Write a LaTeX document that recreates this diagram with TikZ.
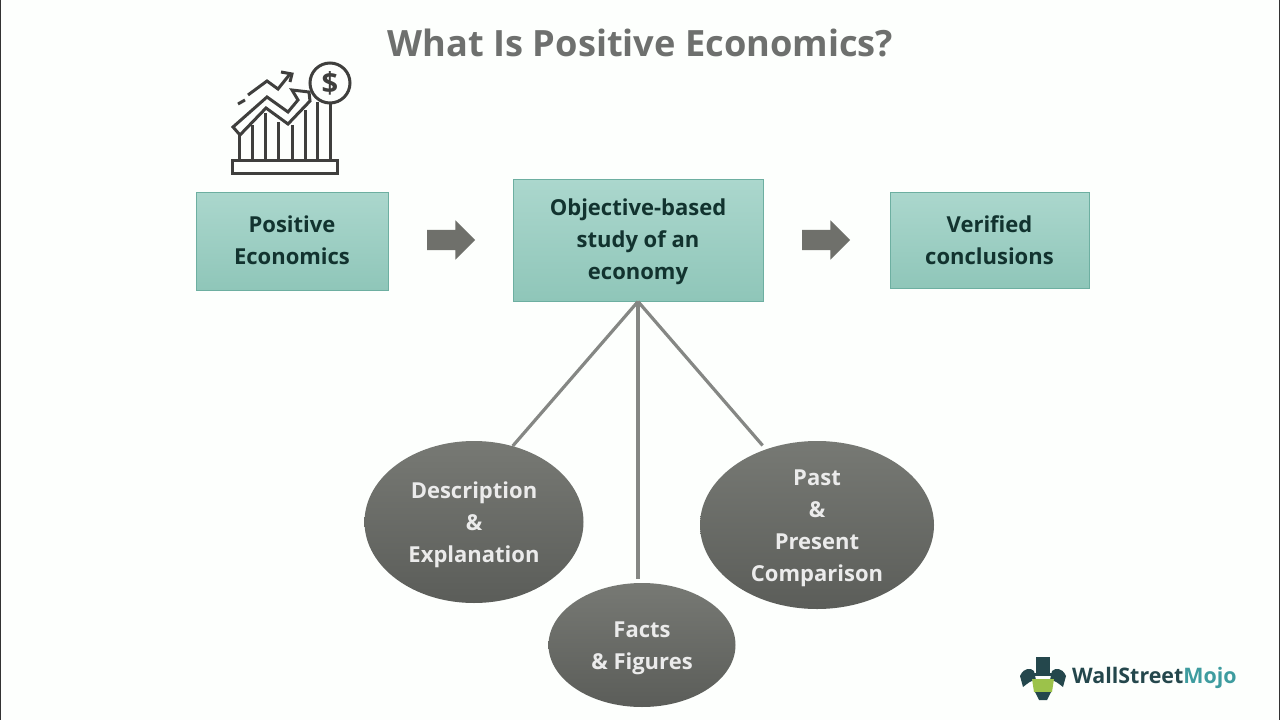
\documentclass[tikz,border=0pt]{standalone}
\usepackage{fontspec}
\setmainfont{Open Sans}
\usetikzlibrary{shapes.geometric,shapes.arrows}
\definecolor{pagebg}{HTML}{FDFFFD}
\definecolor{boxtop}{HTML}{ABD7CD}
\definecolor{boxbot}{HTML}{8FC6B9}
\definecolor{boxline}{HTML}{6DAFA1}
\definecolor{boxtext}{HTML}{12332F}
\definecolor{elltop}{HTML}{777974}
\definecolor{ellbot}{HTML}{5B5D59}
\definecolor{arrowgrey}{HTML}{6F706B}
\definecolor{linegrey}{HTML}{858784}
\definecolor{titlegrey}{HTML}{6E706E}
\definecolor{icondark}{HTML}{3F3F3D}
\definecolor{logodark}{HTML}{24474C}
\definecolor{logoteal}{HTML}{3E9C9F}
\definecolor{logogreen}{HTML}{9CC24A}
\newcommand\shifted[2]{\raisebox{#1}[\height][\depth]{\begin{tabular}{@{}c@{}}#2\end{tabular}}}
\tikzset{
  x=1pt,y=-1pt,
  tealbox/.style={draw=boxline,line width=1pt,top color=boxtop,bottom color=boxbot,
    text=boxtext,font=\bfseries\fontsize{22}{32}\selectfont,inner sep=0pt},
  greyell/.style={ellipse,top color=elltop,bottom color=ellbot,draw=none,
    text=white!92!black,font=\bfseries\fontsize{22}{32}\selectfont,inner sep=0pt},
  flowarrow/.style={single arrow,fill=arrowgrey,draw=none,minimum height=48pt,
    inner xsep=0pt,inner ysep=10pt,single arrow head extend=9.5pt,single arrow tip angle=90},
  spoke/.style={draw=linegrey,line width=3.2pt},
  iconline/.style={draw=icondark,line width=3pt,line join=miter}
}
\begin{document}
\begin{tikzpicture}
\useasboundingbox (0,0) rectangle (1280,720);
\fill[pagebg] (0,0) rectangle (1280,720);
\fill[black!80] (0,0) rectangle (1,720);
\fill[black!80] (1279,0) rectangle (1280,720);
\node[font=\bfseries\fontsize{36.2}{44}\selectfont,text=titlegrey] (title) at (640.5,43) {What Is Positive Economics?};
\node[tealbox,minimum width=192pt,minimum height=98pt] (pos) at (292,241) {\shifted{-1pt}{Positive\\Economics}};
\node[tealbox,minimum width=250pt,minimum height=122pt] (obj) at (638,240) {\shifted{-1pt}{Objective-based\\study of an\\economy}};
\node[tealbox,minimum width=199pt,minimum height=96pt] (ver) at (989.5,240) {\shifted{-2pt}{Verified\\conclusions}};
\node[flowarrow] (a1) at (446,240) {};
\node[flowarrow] (a2) at (821,240) {};
\node[greyell,minimum width=219pt,minimum height=162pt] (desc) at (474,522) {\shifted{-2pt}{Description\\\&\\Explanation}};
\node[greyell,minimum width=187pt,minimum height=124pt] (facts) at (642,645) {\shifted{-2pt}{Facts\\\&\ Figures}};
\node[greyell,inner ysep=-5pt,minimum width=234pt,minimum height=168pt] (past) at (817,525) {\shifted{-2pt}{Past\\\&\\Present\\Comparison}};
\draw[spoke] (obj.south) -- (desc.63);
\draw[spoke,shorten >=4pt] (obj.south) -- (obj.south |- facts.north);
\draw[spoke,shorten >=5pt] (obj.south) -- (past.124);
% icon
\begin{scope}[iconline]
\draw (232,160) rectangle (337,173);
\foreach \bx/\by in {239/134,252/125,265/113,278/122,292/125,305/110,317/102,330/100}
  \draw (\bx,\by) -- (\bx,160);
\fill[pagebg,draw=icondark] (233,127) -- (267,97) -- (288,112) -- (298,100) -- (292,90) -- (309,92) -- (310,101) -- (288,124) -- (266,108) -- (240,135) -- cycle;
\draw (238,104) -- (245,100);
\draw (248,95) -- (267,81) -- (278,89) -- (290,74);
\draw (281,72) -- (292,74) -- (290,82);
\fill[pagebg,draw=icondark] (330,83) circle (20);
\end{scope}
\node[font=\bfseries\fontsize{29}{29}\selectfont,text=icondark] (dollar) at (330,83) {\$};
% logo
\fill[logodark] (1036,657) rectangle (1050,673);
\fill[logodark] (1031,673) rectangle (1056,676);
\fill[logodark] (1020,676) .. controls (1024,667) and (1031,668) .. (1034,671) -- (1036,680) .. controls (1031,680) and (1027,684) .. (1023,687) -- cycle;
\fill[logodark] (1066,676) .. controls (1062,667) and (1055,668) .. (1052,671) -- (1050,680) .. controls (1055,680) and (1059,684) .. (1063,687) -- cycle;
\fill[logogreen] (1032,679) -- (1054,679) -- (1052,692) -- (1034,692) -- cycle;
\fill[logodark] (1035,692) -- (1051,692) -- (1047,700) -- (1039,700) -- cycle;
\node[anchor=west,font=\bfseries\fontsize{21.4}{24}\selectfont,inner sep=0pt] (logo) at (1072,678) {\textcolor{logodark}{WallStreet}\textcolor{logoteal}{Mojo}};
\end{tikzpicture}
\end{document}
